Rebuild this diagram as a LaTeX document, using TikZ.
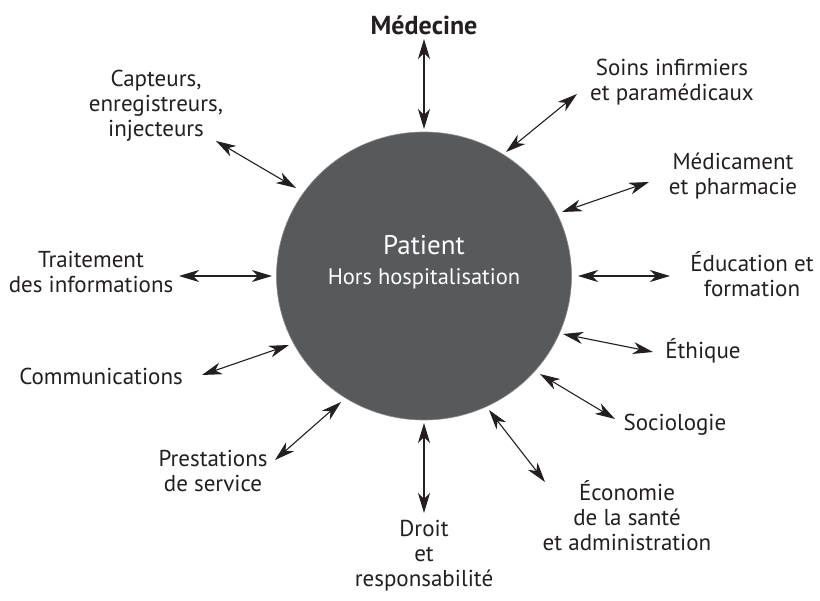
\documentclass[tikz,border=0pt]{standalone}
\usepackage{fontspec}
\setmainfont{PT Sans}
\usetikzlibrary{arrows.meta,shapes.geometric}
\definecolor{disc}{HTML}{58595B}
\definecolor{rim}{HTML}{8A8B8D}
\definecolor{ink}{HTML}{231F20}
\begin{document}
\begin{tikzpicture}[x=1pt,y=-1pt,
  lbl/.style={align=center,text=ink,font=\fontsize{23}{25}\selectfont,inner sep=0pt},
  link/.style={draw=ink,line width=1.1pt,{Stealth[length=20pt,width=12pt,inset=6pt]}-{Stealth[length=20pt,width=12pt,inset=6pt]},shorten <=0pt,shorten >=0pt}]
\useasboundingbox (0,0) rectangle (820,601);
% central disc
\node[ellipse, minimum width=295pt, minimum height=288pt, fill=disc, draw=rim, line width=0.6pt, inner sep=0pt] (pat) at (424,276) {};
\node[text=white,font=\fontsize{27}{30}\selectfont,inner sep=0pt] (patt) at (424,245) {Patient};
\node[text=white,font=\fontsize{22.5}{26}\selectfont,inner sep=0pt] (hors) at (424,279) {Hors hospitalisation};
% labels
\node[lbl,font=\fontsize{26}{28}\selectfont\bfseries] (med) at (424,25) {Médecine};
\node[lbl] (soins) at (672,82) {Soins infirmiers\\et paramédicaux};
\node[lbl] (medic) at (733,176) {Médicament\\et pharmacie};
\node[lbl] (educ) at (752,274) {Éducation et\\formation};
\node[lbl] (eth) at (703,351) {Éthique};
\node[lbl] (soc) at (675,425) {Sociologie};
\node[lbl] (eco) at (627,516) {Économie\\de la santé\\et administration};
\node[lbl] (droit) at (424,556) {Droit\\et\\responsabilité};
\node[lbl] (prest) at (213,471) {Prestations\\de service};
\node[lbl] (comm) at (101,376) {Communications};
\node[lbl] (trait) at (91,272) {Traitement\\des informations};
\node[lbl] (capt) at (156,106) {Capteurs,\\enregistreurs,\\injecteurs};
% arrow end points
\coordinate (m1) at (424,39);  \coordinate (m2) at (424,129);
\coordinate (s1) at (577,94);  \coordinate (s2) at (506,152);
\coordinate (d1) at (649,182); \coordinate (d2) at (562,212);
\coordinate (e1) at (670,276); \coordinate (e2) at (578,276);
\coordinate (t1) at (653,352); \coordinate (t2) at (563,334);
\coordinate (o1) at (615,419); \coordinate (o2) at (540,374);
\coordinate (c1) at (545,482); \coordinate (c2) at (489,410);
\coordinate (r1) at (424,513); \coordinate (r2) at (424,423);
\coordinate (p1) at (275,460); \coordinate (p2) at (341,402);
\coordinate (k1) at (202,375); \coordinate (k2) at (289,345);
\coordinate (i1) at (179,276); \coordinate (i2) at (272,276);
\coordinate (a1) at (216,141); \coordinate (a2) at (296,188);
\foreach \u/\v in {m1/m2,s1/s2,d1/d2,e1/e2,t1/t2,o1/o2,c1/c2,r1/r2,p1/p2,k1/k2,i1/i2,a1/a2}
  \draw[link] (\u) -- (\v);
\end{tikzpicture}
\end{document}
